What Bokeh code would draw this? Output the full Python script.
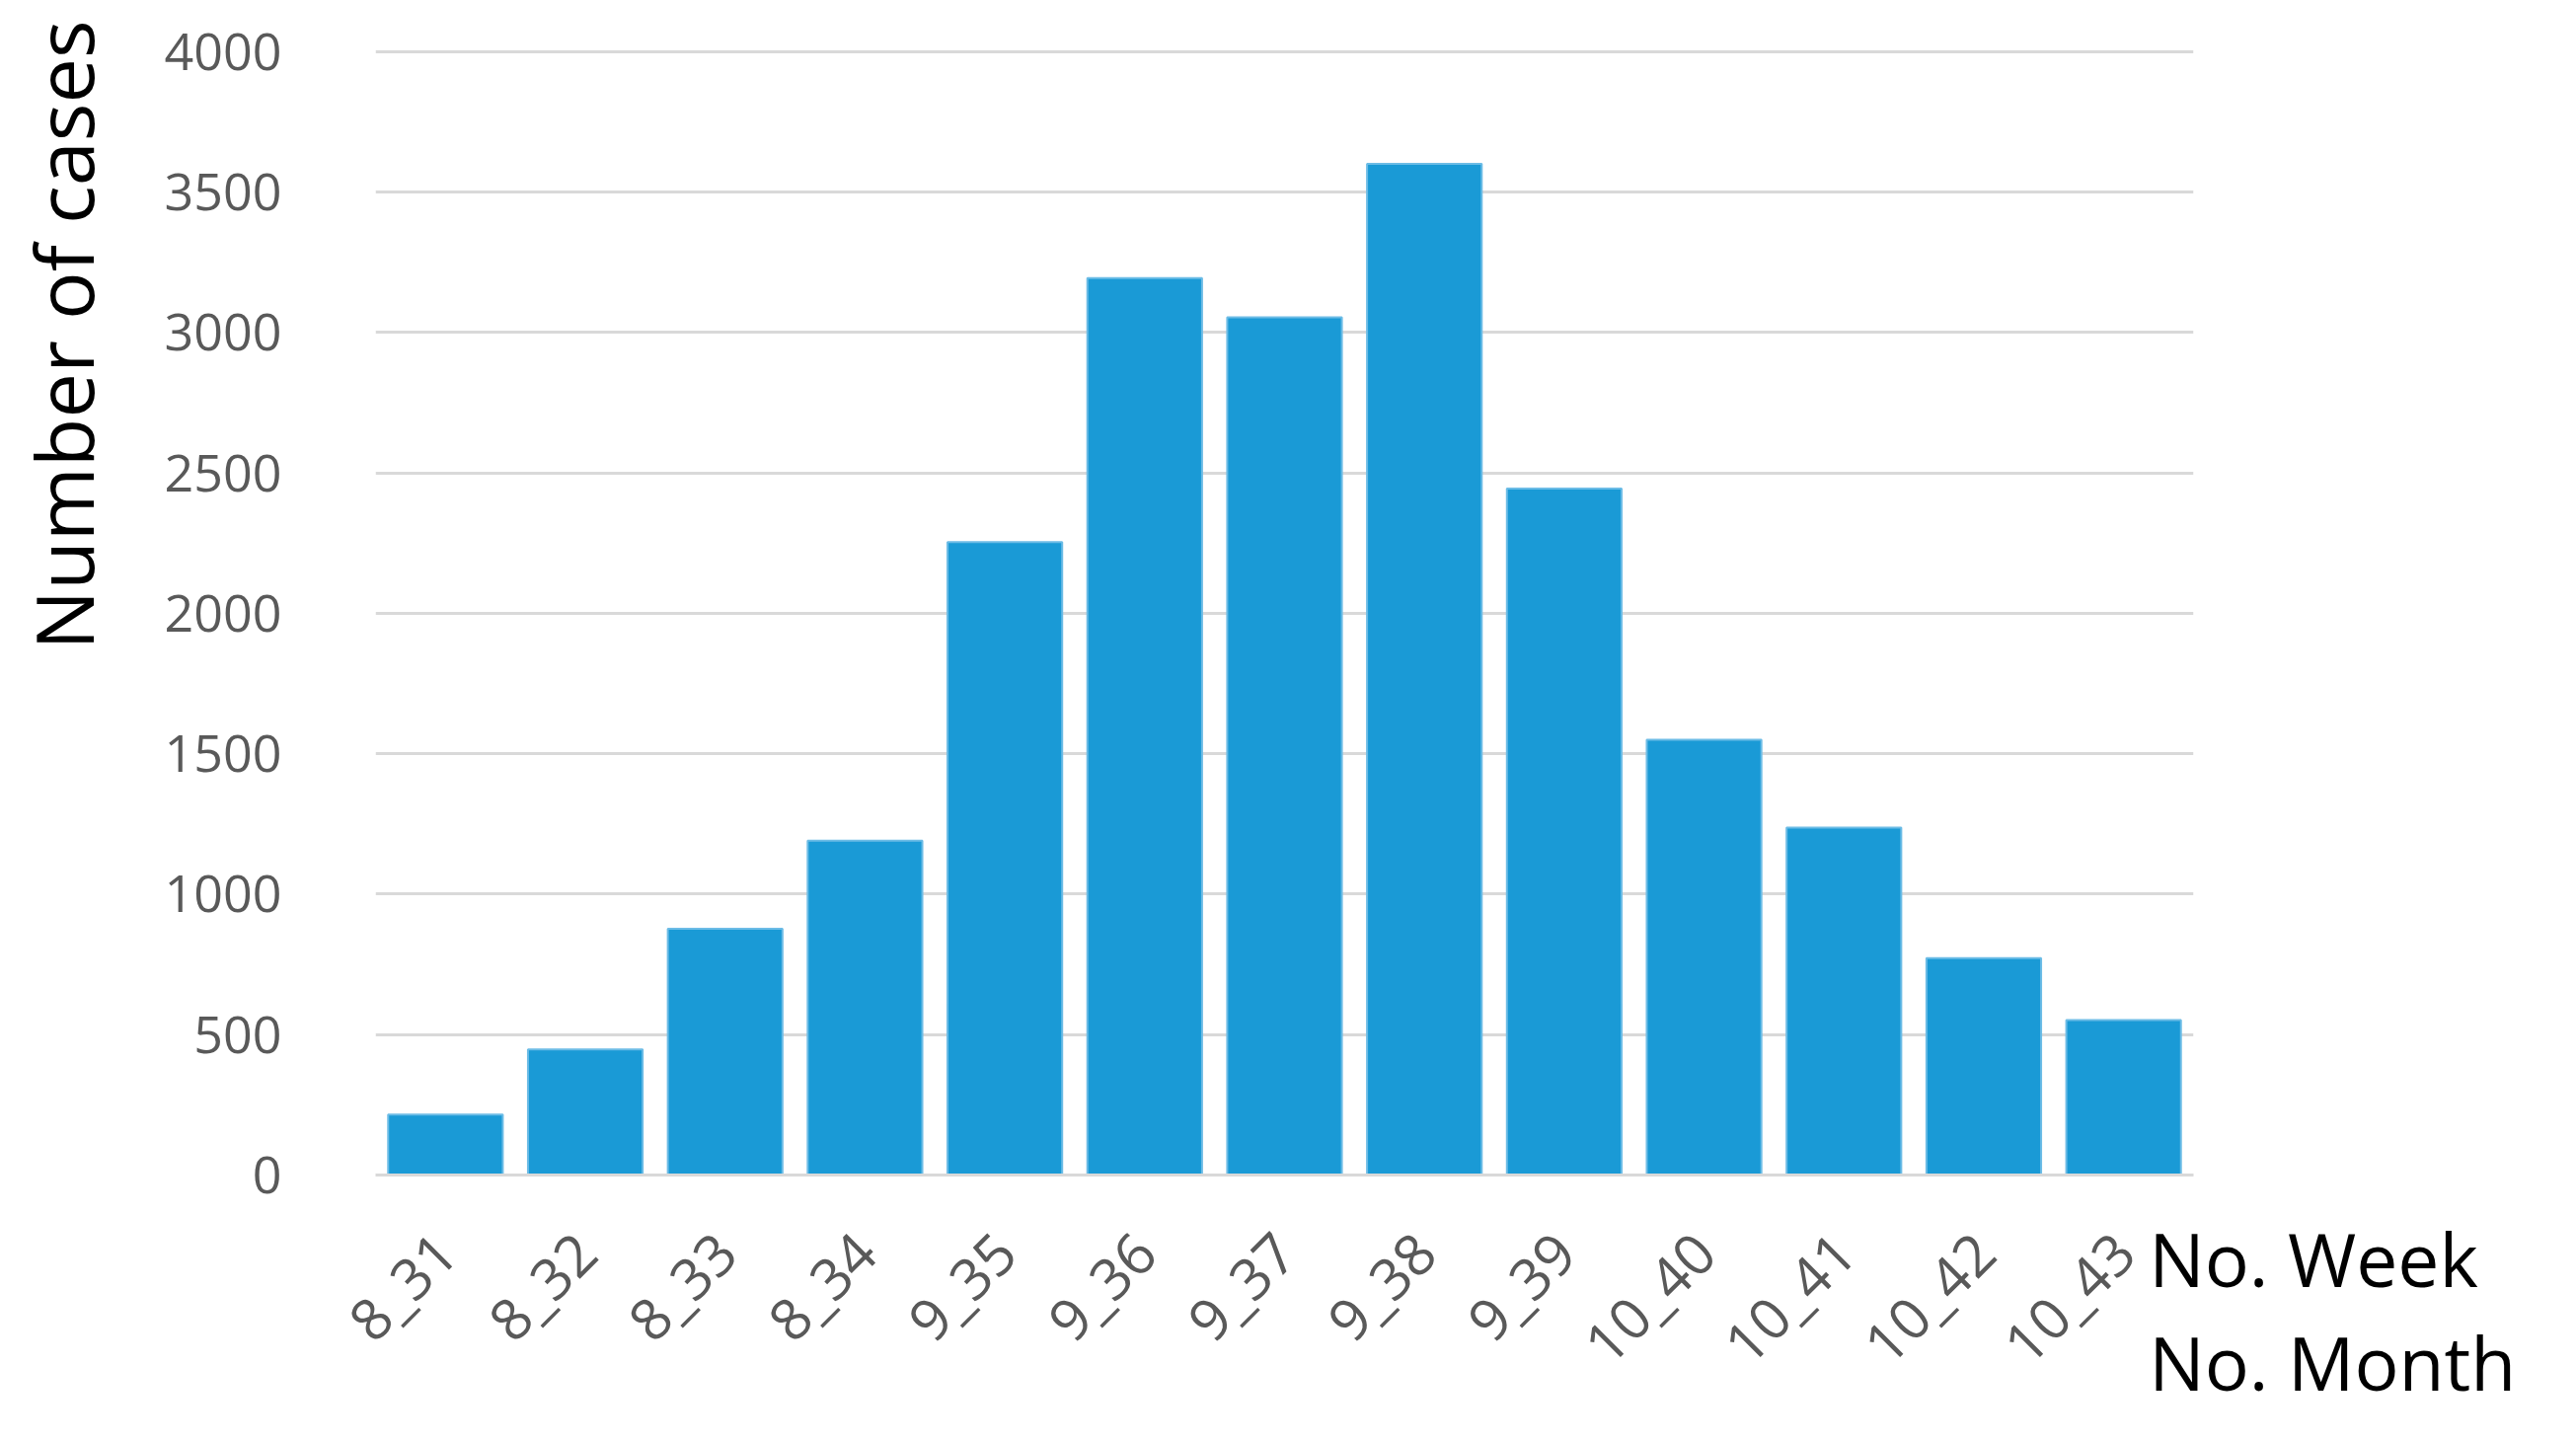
import math
from bokeh.plotting import figure
from bokeh.models import Range1d, Label, ColumnDataSource
from bokeh.embed import file_html
from bokeh.resources import INLINE

weeks = ["8_31", "8_32", "8_33", "8_34", "9_35", "9_36", "9_37",
         "9_38", "9_39", "10_40", "10_41", "10_42", "10_43"]
cases = [215, 447, 877, 1190, 2253, 3193, 3054, 3600, 2444, 1550, 1237, 772, 552]
y_ticks = [0, 500, 1000, 1500, 2000, 2500, 3000, 3500, 4000]

FONT = "Open Sans"

p = figure(x_range=weeks, y_range=Range1d(0, 4006), width=2594, height=1445,
           output_backend="svg", toolbar_location=None,
           min_border_left=380, min_border_right=367, min_border_top=50,
           min_border_bottom=255)
p.outline_line_color = None

src = ColumnDataSource(dict(week=weeks, cases=cases))
p.vbar(x="week", top="cases", width=0.82, source=src,
       fill_color="#1a9ad6", line_color="#6cbce6", line_width=2)

p.xgrid.grid_line_color = None
p.ygrid.grid_line_color = "#d9d9d9"
p.ygrid.grid_line_width = 3
p.yaxis.ticker = y_ticks
p.yaxis.axis_line_color = None
p.yaxis.major_tick_line_color = None
p.yaxis.minor_tick_line_color = None
p.yaxis.major_label_text_font = FONT
p.yaxis.major_label_text_font_size = "52px"
p.yaxis.major_label_text_color = "#595959"
p.yaxis.major_label_standoff = 89

p.xaxis.axis_line_color = "#d9d9d9"
p.xaxis.axis_line_width = 3
p.xaxis.major_tick_line_color = None
p.xaxis.minor_tick_line_color = None
p.xaxis.major_label_orientation = math.pi / 4
p.xaxis.major_label_text_font = FONT
p.xaxis.major_label_text_font_size = "58px"
p.xaxis.major_label_text_color = "#595959"
p.xaxis.major_label_standoff = 62

p.add_layout(Label(x=-2.24, y=2990, text="Number of cases", angle=math.pi / 2,
                   text_align="center", text_baseline="middle",
                   text_font=FONT, text_font_size="81px", text_color="black"),
             "left")

p.add_layout(Label(x=12.68, y=-117, text="No. Week\nNo. Month",
                   text_align="left", text_baseline="top",
                   text_font=FONT, text_font_size="75px",
                   text_line_height=1.034, text_color="black"), "right")

open("out.html", "w").write(file_html(p, INLINE))
